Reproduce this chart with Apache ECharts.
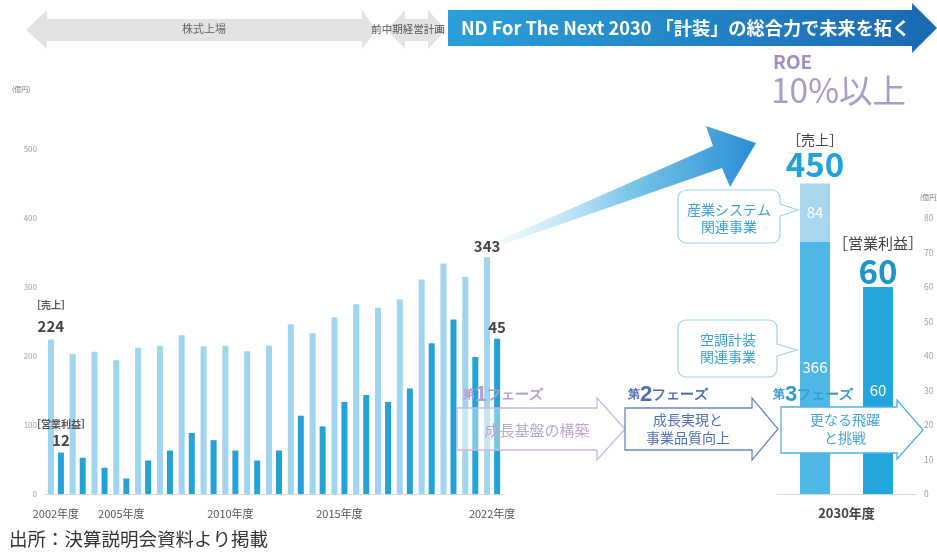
<!DOCTYPE html>
<html>
<head>
<meta charset="utf-8">
<script src="https://cdn.jsdelivr.net/npm/echarts@6/dist/echarts.min.js"></script>
<style>
html,body{margin:0;padding:0;background:#fff;}
#c{width:937px;height:553px;}
</style>
</head>
<body>
<div id="c"></div>
<script>
// ---- data ----
const years = ['2002年度','2003年度','2004年度','2005年度','2006年度','2007年度','2008年度','2009年度','2010年度','2011年度','2012年度','2013年度','2014年度','2015年度','2016年度','2017年度','2018年度','2019年度','2020年度','2021年度','2022年度'];
const sales = [224, 203, 206, 194, 212, 215, 230, 214, 215, 207, 215, 246, 233, 256, 275, 270, 282, 311, 334, 315, 343];
const profit = [12, 10.5, 7.6, 4.5, 9.7, 12.6, 17.7, 15.6, 12.6, 9.7, 12.6, 22.7, 19.6, 26.7, 28.7, 26.7, 30.6, 43.7, 50.6, 39.7, 45];
const shownYearLabels = ['2002年度','2005年度','2010年度','2015年度','2022年度'];
const planCategory = ['2030年度'];
const planSalesAircon = [366];      // 空調計装関連事業
const planSalesIndustrial = [84];   // 産業システム関連事業
const planSalesTotal = [450];
const planProfit = [60];
const salesAxis = {min: 0, max: 500, interval: 100};
const profitAxis = {min: 0, max: 100, interval: 10, shownMax: 80};

const FONT = '"Noto Sans CJK JP", "Noto Sans", sans-serif';
const chart = echarts.init(document.getElementById('c'));

function arrowPts(x0, xb, tip, yTop, yBot, hTop, hBot) {
  const yc = (yTop + yBot) / 2;
  return [[x0, yTop], [xb, yTop], [xb, hTop], [tip, yc], [xb, hBot], [xb, yBot], [x0, yBot]];
}
function dblArrow(l, lb, rb, r, yTop, yBot, hTop, hBot) {
  const yc = (yTop + yBot) / 2;
  return [[l, yc], [lb, hTop], [lb, yTop], [rb, yTop], [rb, hTop], [r, yc], [rb, hBot], [rb, yBot], [lb, yBot], [lb, hBot]];
}

const option = {
  animation: false,
  textStyle: {fontFamily: FONT},
  grid: [
    {left: 45, width: 458, top: 149, height: 345},
    {left: 777, width: 139, top: 149, height: 345}
  ],
  xAxis: [
    {type: 'category', gridIndex: 0, data: years,
      axisLine: {lineStyle: {color: '#d9d9d9'}}, axisTick: {show: false},
      axisLabel: {margin: 14, fontSize: 11, color: '#555',
        interval: (i, v) => shownYearLabels.includes(v)}},
    {type: 'category', gridIndex: 1, data: planCategory,
      axisLine: {lineStyle: {color: '#d9d9d9'}}, axisTick: {show: false},
      axisLabel: {margin: 13, fontSize: 13, fontWeight: 'bold', color: '#444'}}
  ],
  yAxis: [
    {type: 'value', gridIndex: 0, min: salesAxis.min, max: salesAxis.max, interval: salesAxis.interval,
      splitLine: {show: false}, axisLine: {show: false}, axisTick: {show: false},
      axisLabel: {fontSize: 8, color: '#a0a0a0', margin: 8}},
    {type: 'value', gridIndex: 0, min: profitAxis.min, max: profitAxis.max, interval: profitAxis.interval,
      show: false, splitLine: {show: false}},
    {type: 'value', gridIndex: 1, min: salesAxis.min, max: salesAxis.max, interval: salesAxis.interval,
      show: false, splitLine: {show: false}},
    {type: 'value', gridIndex: 1, position: 'right', min: profitAxis.min, max: profitAxis.max, interval: profitAxis.interval,
      splitLine: {show: false}, axisLine: {show: false}, axisTick: {show: false},
      axisLabel: {fontSize: 8.5, color: '#a0a0a0', margin: 8,
        formatter: v => (v > profitAxis.shownMax ? '' : String(v))}}
  ],
  series: [
    {name: '売上', type: 'bar', xAxisIndex: 0, yAxisIndex: 0, barWidth: 6, barGap: '67%',
      itemStyle: {color: '#9fd5ee'},
      data: sales.map((v, i) => {
        if (i === 0) return {value: v, label: {show: true, position: 'top', distance: 3,
          formatter: '{a|［売上］}\n{b|' + v + '}',
          rich: {a: {fontSize: 10, fontWeight: 'bold', color: '#555', lineHeight: 22}, b: {fontSize: 15, fontWeight: 'bold', color: '#444', lineHeight: 20}}}};
        if (i === sales.length - 1) return {value: v, label: {show: true, position: 'top', distance: 4,
          formatter: '' + v, fontSize: 15, fontWeight: 'bold', color: '#444'}};
        return v;
      })},
    {name: '営業利益', type: 'bar', xAxisIndex: 0, yAxisIndex: 1, barWidth: 6, barGap: '67%',
      itemStyle: {color: '#22a3d8'},
      data: profit.map((v, i) => {
        if (i === 0) return {value: v, label: {show: true, position: 'top', distance: 3,
          formatter: '{a|［営業利益］}\n{b|' + v + '}',
          rich: {a: {fontSize: 10, fontWeight: 'bold', color: '#555', lineHeight: 14}, b: {fontSize: 15, fontWeight: 'bold', color: '#444', lineHeight: 18}}}};
        if (i === profit.length - 1) return {value: v, label: {show: true, position: 'top', distance: 4,
          formatter: '' + v, fontSize: 15, fontWeight: 'bold', color: '#444'}};
        return v;
      })},
    {name: '空調計装関連事業', type: 'bar', xAxisIndex: 1, yAxisIndex: 2, stack: 's', barWidth: 30, barGap: '110%',
      itemStyle: {color: '#4db8e6'}, data: planSalesAircon,
      label: {show: true, position: 'inside', color: '#fff', fontSize: 15}},
    {name: '産業システム関連事業', type: 'bar', xAxisIndex: 1, yAxisIndex: 2, stack: 's', barWidth: 30, barGap: '110%',
      itemStyle: {color: '#a6d7ef'}, data: planSalesIndustrial,
      label: {show: true, position: 'inside', color: '#fff', fontSize: 15}},
    {name: '売上合計', type: 'bar', xAxisIndex: 1, yAxisIndex: 2, stack: 's', barWidth: 30, barGap: '110%',
      itemStyle: {color: 'rgba(0,0,0,0)'}, data: planSalesTotal.map(t => ({value: 0, total: t})),
      label: {show: true, position: 'top', distance: 3,
        formatter: p => '{a|［売上］}\n{b|' + p.data.total + '}',
        rich: {a: {fontSize: 14, color: '#444', lineHeight: 18}, b: {fontSize: 33, fontWeight: 'bold', color: '#1fa3d9', lineHeight: 32}}}},
    {name: '営業利益2030', type: 'bar', xAxisIndex: 1, yAxisIndex: 3, stack: 'p', barWidth: 30, barGap: '110%',
      itemStyle: {color: '#22a7dc'}, data: planProfit,
      label: {show: true, position: 'inside', color: '#fff', fontSize: 15}},
    {name: '営業利益2030ラベル', type: 'bar', xAxisIndex: 1, yAxisIndex: 3, stack: 'p', barWidth: 30, barGap: '110%',
      itemStyle: {color: 'rgba(0,0,0,0)'}, data: planProfit.map(t => ({value: 0, total: t})),
      label: {show: true, position: 'top', distance: 0,
        formatter: p => '{a|［営業利益］}\n{b|' + p.data.total + '}',
        rich: {a: {fontSize: 15, color: '#444', lineHeight: 24}, b: {fontSize: 33, fontWeight: 'bold', color: '#1a95cf', lineHeight: 32}}}}
  ],
  graphic: [
    // header arrows
    {type: 'polygon', z: 5, shape: {points: dblArrow(26, 47, 362, 376, 19, 41, 10, 49)}, style: {fill: '#e3e3e3'}},
    {type: 'polygon', z: 5, shape: {points: dblArrow(387, 405, 428, 446, 19, 41, 10, 49)}, style: {fill: '#e3e3e3'}},
    {type: 'text', z: 6, x: 204, y: 29, style: {text: '株式上場', fontSize: 11, fill: '#666', fontFamily: FONT, align: 'center', verticalAlign: 'middle'}},
    {type: 'text', z: 6, x: 408, y: 29, style: {text: '前中期経営計画', fontSize: 10.5, fill: '#555', fontFamily: FONT, align: 'center', verticalAlign: 'middle'}},
    {type: 'polygon', z: 5, shape: {points: arrowPts(448, 912, 937, 10, 46, 3, 53)},
      style: {fill: new echarts.graphic.LinearGradient(0, 0, 1, 0, [{offset: 0, color: '#2aa0da'}, {offset: 1, color: '#1a69b2'}])}},
    {type: 'text', z: 6, x: 461, y: 28, style: {text: 'ND For The Next 2030 「計装」の総合力で未来を拓く', fontSize: 18.2, fontWeight: 'bold', fill: '#fff', fontFamily: FONT, verticalAlign: 'middle'}},
    // ROE
    {type: 'text', z: 6, x: 773, y: 62, style: {text: 'ROE', fontSize: 19, fontWeight: 'bold', fill: '#a28fc2', fontFamily: FONT, verticalAlign: 'middle'}},
    {type: 'text', z: 6, x: 771, y: 90, style: {text: '10%以上', fontSize: 33.5, fill: '#ab9bc9', fontFamily: FONT, verticalAlign: 'middle'}},
    // growth arrow
    {type: 'polygon', z: 5, shape: {points: [[500, 240], [713, 146], [706, 126], [756, 143], [730, 187], [722, 168], [504, 244]]},
      style: {fill: new echarts.graphic.LinearGradient(0, 0, 1, 0, [{offset: 0, color: 'rgba(215,238,249,0.4)'}, {offset: 0.5, color: '#7cc6ea'}, {offset: 1, color: '#2a8ed4'}])}},
    // unit labels
    {type: 'text', z: 6, x: 12, y: 89, style: {text: '(億円)', fontSize: 7, fill: '#777', fontFamily: FONT, verticalAlign: 'middle'}},
    {type: 'text', z: 6, x: 920, y: 197, style: {text: '(億円)', fontSize: 7, fill: '#777', fontFamily: FONT, verticalAlign: 'middle'}},
    // callout 1
    {type: 'rect', z: 20, shape: {x: 678, y: 190, width: 102, height: 53, r: 8}, style: {fill: '#fff', stroke: '#9dd3ee', lineWidth: 1.2}},
    {type: 'polygon', z: 21, shape: {points: [[779, 204], [798, 210], [779, 216]]}, style: {fill: '#fff'}},
    {type: 'polyline', z: 22, shape: {points: [[780, 204], [798, 210], [780, 216]]}, style: {stroke: '#9dd3ee', lineWidth: 1.2, fill: null}},
    {type: 'text', z: 22, x: 729, y: 218, style: {text: '産業システム\n関連事業', fontSize: 14, lineHeight: 17, fill: '#3aa0d8', fontFamily: FONT, align: 'center', verticalAlign: 'middle'}},
    // callout 2
    {type: 'rect', z: 20, shape: {x: 678, y: 320, width: 99, height: 57, r: 8}, style: {fill: '#fff', stroke: '#9dd3ee', lineWidth: 1.2}},
    {type: 'polygon', z: 21, shape: {points: [[776, 344], [797, 350], [776, 356]]}, style: {fill: '#fff'}},
    {type: 'polyline', z: 22, shape: {points: [[777, 344], [797, 350], [777, 356]]}, style: {stroke: '#9dd3ee', lineWidth: 1.2, fill: null}},
    {type: 'text', z: 22, x: 728, y: 348, style: {text: '空調計装\n関連事業', fontSize: 14, lineHeight: 17, fill: '#3aa0d8', fontFamily: FONT, align: 'center', verticalAlign: 'middle'}},
    // phases
    {type: 'polygon', z: 20, shape: {points: arrowPts(457, 597, 625, 408, 450, 398, 460)}, style: {fill: 'rgba(255,255,255,0.4)', stroke: '#cbb9dc', lineWidth: 1.3}},
    {type: 'text', z: 22, x: 537, y: 430, style: {text: '成長基盤の構築', fontSize: 15, fill: '#bca6d3', fontFamily: FONT, align: 'center', verticalAlign: 'middle'}},
    {type: 'polygon', z: 20, shape: {points: arrowPts(625, 752, 778, 408, 450, 398, 460)}, style: {fill: '#fff', stroke: '#6b88c4', lineWidth: 1.3}},
    {type: 'text', z: 22, x: 688, y: 429, style: {text: '成長実現と\n事業品質向上', fontSize: 14, lineHeight: 18, fill: '#4d72b8', fontFamily: FONT, align: 'center', verticalAlign: 'middle'}},
    {type: 'polygon', z: 20, shape: {points: arrowPts(781, 897, 923, 407, 453, 400, 459)}, style: {fill: '#fff', stroke: '#50b0e0', lineWidth: 1.3}},
    {type: 'text', z: 22, x: 845, y: 429, style: {text: '更なる飛躍\nと挑戦', fontSize: 14, lineHeight: 18, fill: '#3fa6d9', fontFamily: FONT, align: 'center', verticalAlign: 'middle'}},
    {type: 'text', z: 22, x: 463, y: 395, style: {text: '{a|第}{b|1}{c|フェーズ}', fontFamily: FONT, verticalAlign: 'middle',
      rich: {a: {fontSize: 12, fontWeight: 'bold', fill: '#b49ccb'}, b: {fontSize: 22, fontWeight: 'bold', fill: '#b49ccb'}, c: {fontSize: 14, fontWeight: 'bold', fill: '#b49ccb'}}}},
    {type: 'text', z: 22, x: 628, y: 395, style: {text: '{a|第}{b|2}{c|フェーズ}', fontFamily: FONT, verticalAlign: 'middle',
      rich: {a: {fontSize: 12, fontWeight: 'bold', fill: '#4b6db3'}, b: {fontSize: 22, fontWeight: 'bold', fill: '#4b6db3'}, c: {fontSize: 14, fontWeight: 'bold', fill: '#4b6db3'}}}},
    {type: 'text', z: 22, x: 773, y: 395, style: {text: '{a|第}{b|3}{c|フェーズ}', fontFamily: FONT, verticalAlign: 'middle',
      rich: {a: {fontSize: 12, fontWeight: 'bold', fill: '#2e9ad4'}, b: {fontSize: 22, fontWeight: 'bold', fill: '#2e9ad4'}, c: {fontSize: 14, fontWeight: 'bold', fill: '#2e9ad4'}}}},
    // source
    {type: 'text', z: 6, x: 9, y: 539, style: {text: '出所：決算説明会資料より掲載', fontSize: 18.5, fill: '#333', fontFamily: FONT, verticalAlign: 'middle'}}
  ]
};
chart.setOption(option);
</script>
</body>
</html>
